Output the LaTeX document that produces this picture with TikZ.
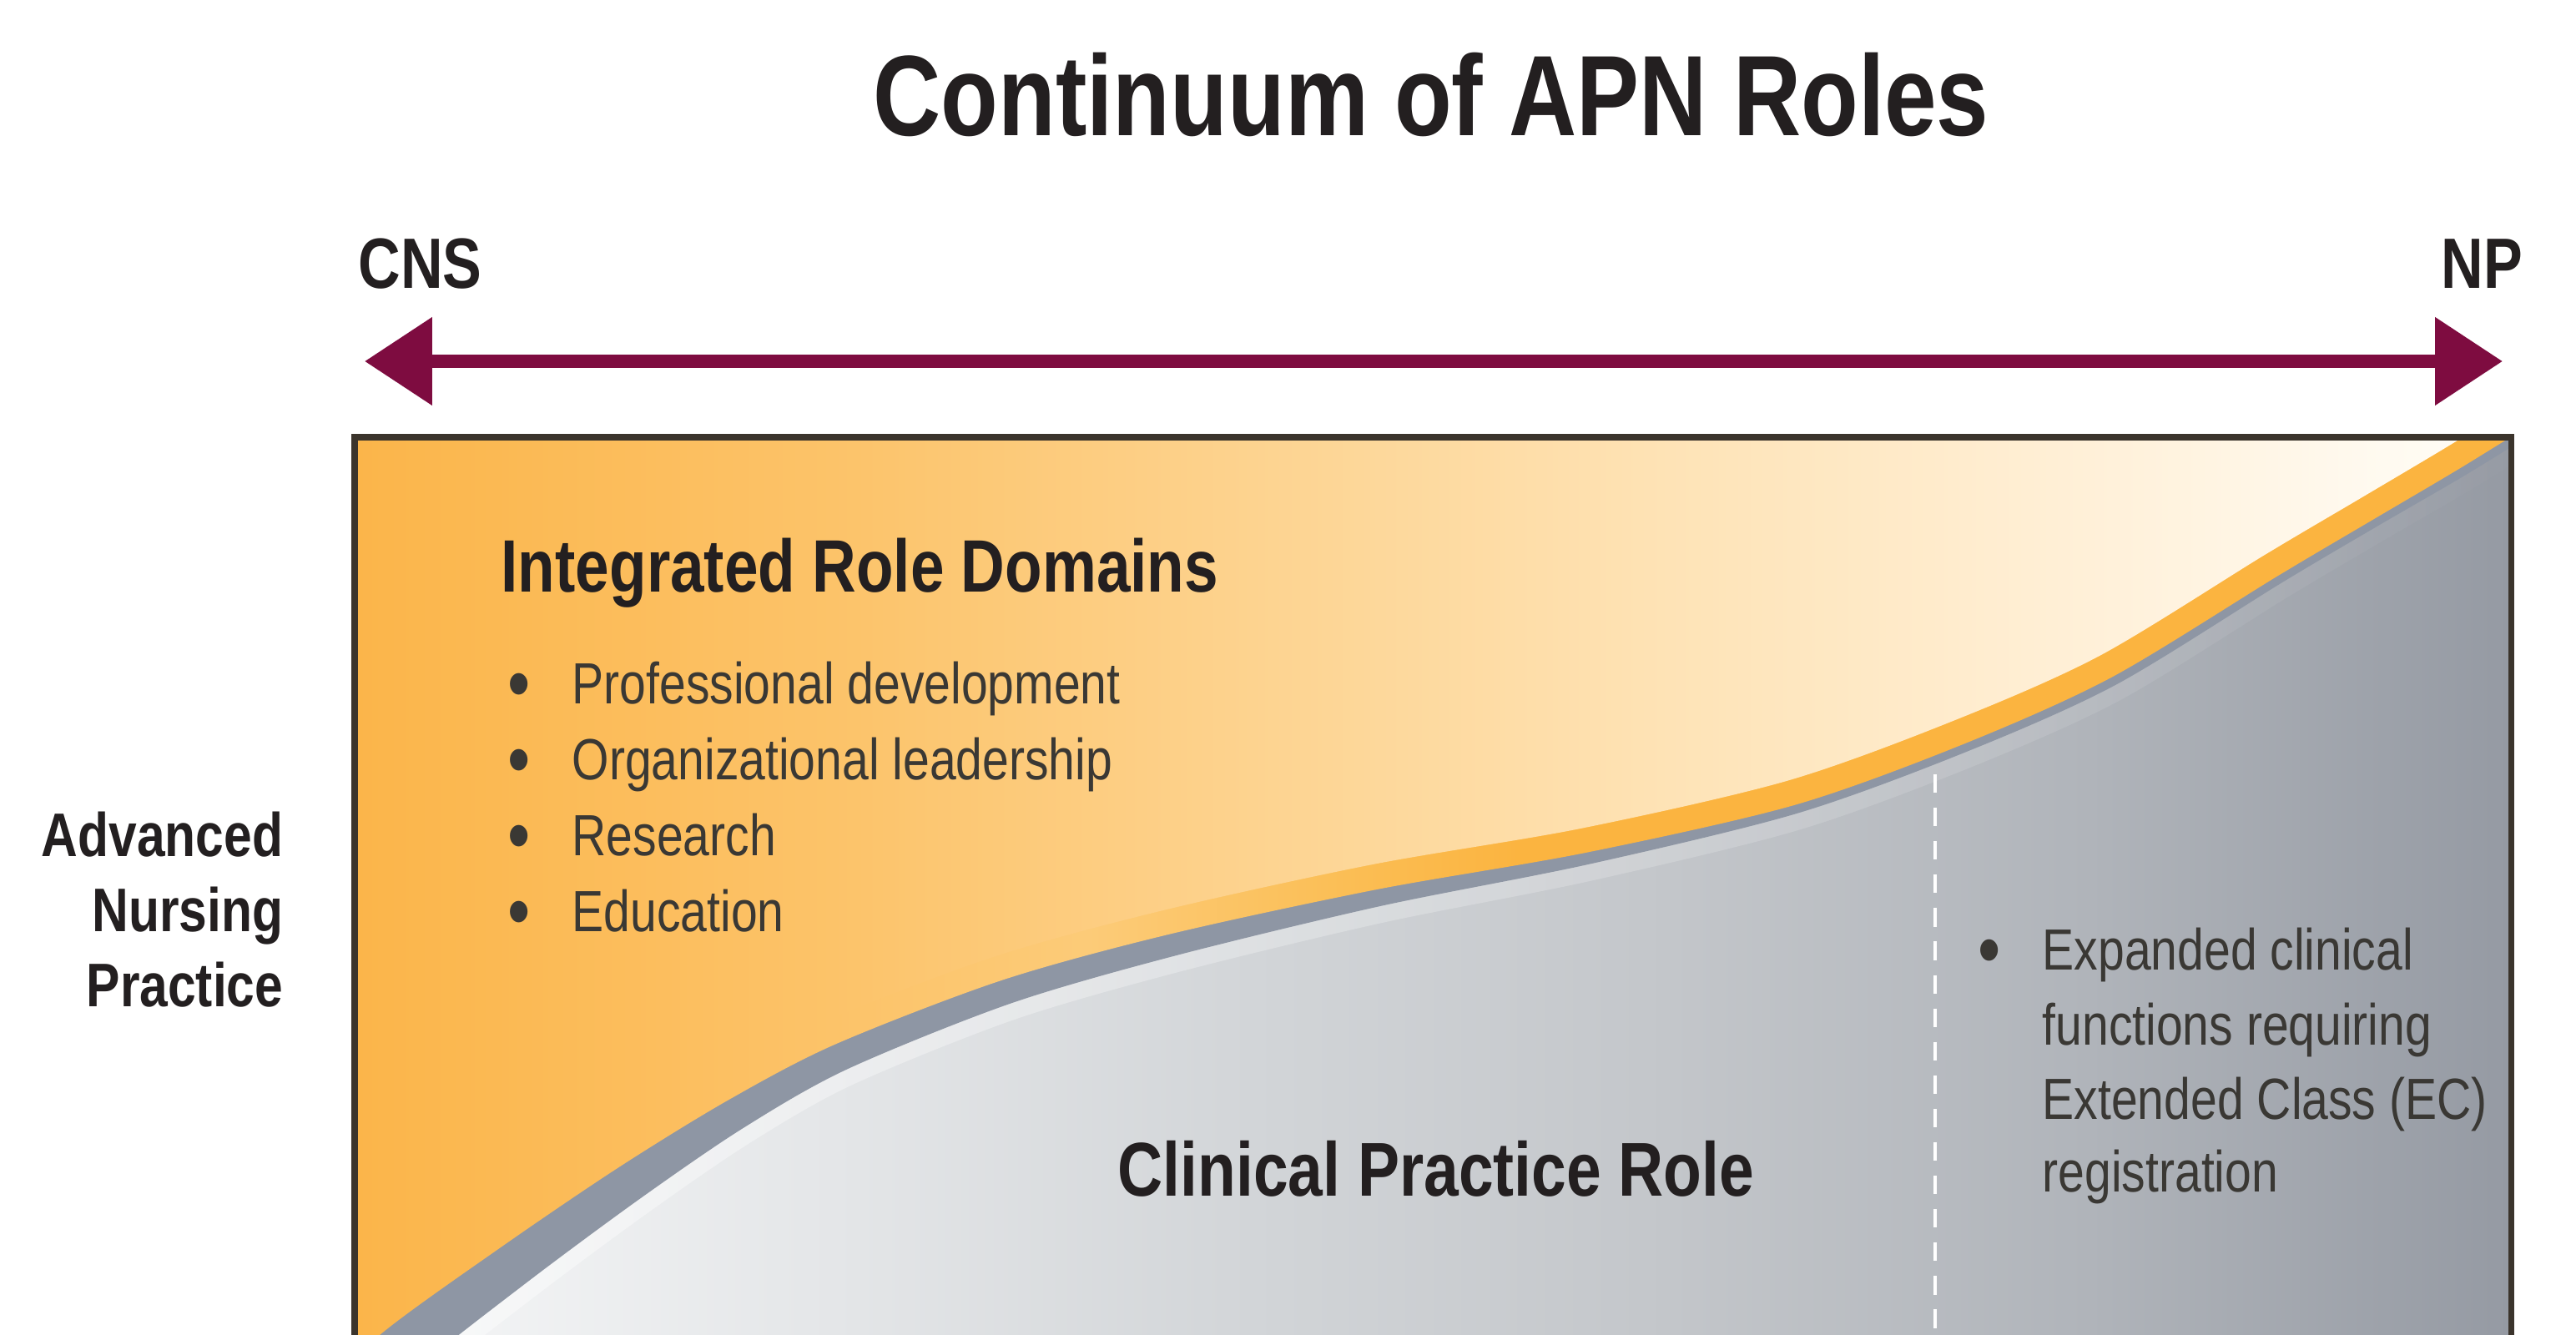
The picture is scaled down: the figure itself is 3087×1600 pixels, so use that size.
\documentclass[tikz,border=0pt]{standalone}
\usepackage{fontspec}
\setmainfont{Liberation Sans}[FakeStretch=0.82]
\usetikzlibrary{arrows.meta,fadings}
\definecolor{titlecol}{HTML}{231F20}
\definecolor{bodycol}{HTML}{3A3834}
\definecolor{arrowcol}{HTML}{7E0C40}
\definecolor{bordercol}{HTML}{3B342C}
\definecolor{orband}{HTML}{FBB440}
\definecolor{grband}{HTML}{8E96A4}
\definecolor{or0}{HTML}{FBB54A}
\definecolor{or1}{HTML}{FCC369}
\definecolor{or2}{HTML}{FDD38F}
\definecolor{or3}{HTML}{FEE3B6}
\definecolor{or4}{HTML}{FFF0D8}
\definecolor{or5}{HTML}{FFFAF0}
\definecolor{or6}{HTML}{FFFDF8}
\definecolor{ob1}{HTML}{FCCB78}
\definecolor{ob2}{HTML}{FBBE55}
\definecolor{g0}{HTML}{F6F7F8}
\definecolor{g1}{HTML}{E4E6E8}
\definecolor{g2}{HTML}{D2D5D8}
\definecolor{g3}{HTML}{C3C6CA}
\definecolor{g4}{HTML}{B0B4BA}
\definecolor{g5}{HTML}{959AA3}
\pgfdeclarehorizontalshading{orsh}{100bp}{color(0bp)=(or0); color(25bp)=(or0); color(36.1bp)=(or1); color(45.8bp)=(or2); color(55.5bp)=(or3); color(65.2bp)=(or4); color(72bp)=(or5); color(75bp)=(or6); color(100bp)=(or6)}
\pgfdeclarehorizontalshading{obsh}{100bp}{color(0bp)=(or0); color(25bp)=(or0); color(36.1bp)=(or1); color(42bp)=(ob1); color(48bp)=(ob2); color(52bp)=(orband); color(75bp)=(orband); color(100bp)=(orband)}
\pgfdeclarehorizontalshading{grsh}{100bp}{color(0bp)=(g0); color(25bp)=(g0); color(36.1bp)=(g1); color(45.8bp)=(g2); color(55.5bp)=(g3); color(65.2bp)=(g4); color(75bp)=(g5); color(100bp)=(g5)}
\tikzset{
  ttl/.style={font=\fontsize{39pt}{45pt}\selectfont\bfseries, text=titlecol, inner sep=0pt},
  endlbl/.style={font=\fontsize{24.3pt}{28pt}\selectfont\bfseries, text=titlecol, inner sep=0pt},
  sidelbl/.style={font=\fontsize{21pt}{25.6pt}\selectfont\bfseries, text=titlecol, inner sep=0pt, align=right},
  headlbl/.style={font=\fontsize{25.3pt}{30pt}\selectfont\bfseries, text=titlecol, inner sep=0pt},
  itemlbl/.style={font=\fontsize{19.8pt}{25.6pt}\selectfont, text=bodycol, inner sep=0pt},
  arrowline/.style={draw=arrowcol, line width=4.27pt, arrows={Triangle[length=23pt,width=29pt]-Triangle[length=23pt,width=29pt]}},
  boxline/.style={draw=bordercol, line width=2pt},
  glowline/.style={draw=white, opacity=0.45, line width=11.4pt, path fading=east},
  dashline/.style={draw=white, line width=1.4pt, dash pattern=on 6.3pt off 5.1pt},
}
\newcommand{\bulbox}{\makebox[21.9pt][l]{\raisebox{-2.5pt}{\fontsize{27pt}{27pt}\selectfont •}}}
\begin{document}
\begin{tikzpicture}[x=0.01cm, y=-0.01cm]
\useasboundingbox (0,0) rectangle (3087,1600);
\fill[white] (0,0) rectangle (3087,1600);

% panel
\begin{scope}
\clip (425,524) rectangle (3009,1650);
\shade[shading=grsh] (425,524) rectangle (3009,1600);
\draw[glowline] plot[smooth] coordinates {(419,1728) (491,1648) (630,1538) (765,1438) (889,1353) (1014,1282) (1210,1203) (1406,1146) (1654,1086) (1903,1036) (2153,975) (2354,902) (2535,821) (2735,698) (2850,630) (2955,569) (3055,507)};
\fill[grband] plot[smooth] coordinates {(419,1728) (491,1648) (630,1538) (765,1438) (889,1353) (1014,1282) (1210,1203) (1406,1146) (1654,1086) (1903,1036) (2153,975) (2354,902) (2535,821) (2735,698) (2850,630) (2955,569) (3055,507)} -- (3100,400) -- (300,400) -- cycle;
\begin{scope}
\clip plot[smooth] coordinates {(380,1680) (455,1600) (600,1495) (740,1400) (870,1320) (1000,1252) (1200,1175) (1400,1120) (1650,1066) (1900,1022) (2150,965) (2350,893) (2530,812) (2730,690) (2845,622) (2950,560) (3050,498)} -- (3100,400) -- (300,400) -- cycle;
\shade[shading=obsh] (425,524) rectangle (3009,1600);
\end{scope}
\begin{scope}
\clip plot[smooth] coordinates {(361,1657) (437,1576) (583,1470) (724,1375) (855,1294) (987,1225) (1190,1147) (1394,1091) (1645,1036) (1894,993) (2141,936) (2338,865) (2516,786) (2714,665) (2829,597) (2935,534) (3035,472)} -- (3100,400) -- (300,400) -- cycle;
\shade[shading=orsh] (425,524) rectangle (3009,1600);
\end{scope}
\coordinate (dashT) at (2319,928);
\coordinate (dashB) at (2319,1620);
\draw[dashline] (dashT) -- (dashB);
\end{scope}
\draw[boxline] (425,524) rectangle (3009,1650);

% arrow
\coordinate (arrL) at (437,433);
\coordinate (arrR) at (2999,433);
\draw[arrowline] (arrL) -- (arrR);

% texts
\node[ttl, anchor=base] (title) at (1715,163) {Continuum of APN Roles};
\node[endlbl, anchor=base west] (cns) at (429,345) {CNS};
\node[endlbl, anchor=base east] (np) at (3024,345) {NP};
\node[sidelbl, anchor=east] (anp) at (340,1090) {Advanced\\Nursing\\Practice};
\node[headlbl, anchor=base west] (ird) at (600,709) {Integrated Role Domains};
\node[itemlbl, anchor=base west] (pd) at (608,843) {\bulbox Professional development};
\node[itemlbl, anchor=base west] (ol) at (608,934) {\bulbox Organizational leadership};
\node[itemlbl, anchor=base west] (rs) at (608,1025) {\bulbox Research};
\node[itemlbl, anchor=base west] (ed) at (608,1116) {\bulbox Education};
\node[headlbl, font=\fontsize{26pt}{30pt}\selectfont\bfseries, anchor=base west] (cpr) at (1339,1433) {Clinical Practice Role};
\node[itemlbl, anchor=base west] (ec1) at (2370,1162) {\bulbox Expanded clinical};
\node[itemlbl, anchor=base west] (ec2) at (2447,1252) {functions requiring};
\node[itemlbl, anchor=base west] (ec3) at (2447,1341) {Extended Class (EC)};
\node[itemlbl, anchor=base west] (ec4) at (2447,1428) {registration};
\end{tikzpicture}
\end{document}
